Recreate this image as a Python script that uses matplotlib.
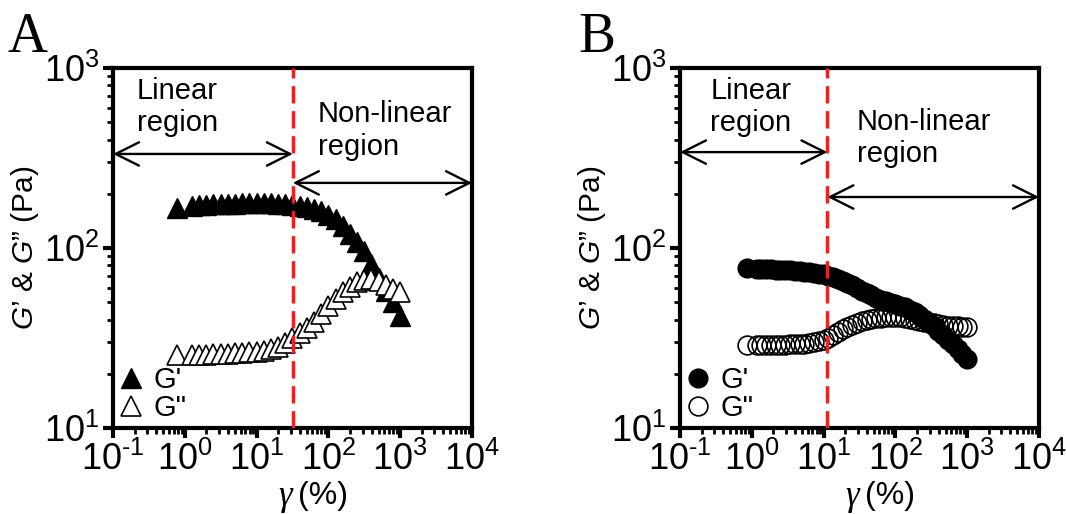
import matplotlib
matplotlib.use("Agg")
import matplotlib.pyplot as plt
from matplotlib.ticker import LogLocator, NullFormatter, FuncFormatter
import math

plt.rcParams['font.family'] = ['Liberation Sans', 'DejaVu Sans']
plt.rcParams['mathtext.fontset'] = 'custom'
plt.rcParams['mathtext.rm'] = 'Liberation Sans'
plt.rcParams['mathtext.it'] = 'Liberation Sans:italic'
plt.rcParams['mathtext.default'] = 'regular'
plt.rcParams['axes.unicode_minus'] = False

# ---------------- data ----------------
# Panel A (strain %, Pa)
strain_a = [0.79, 1.26, 1.58, 2.0, 2.51, 3.16, 3.98, 5.01, 6.31, 7.94, 10.0,
            12.6, 15.8, 20.0, 25.1, 31.6, 39.8, 50.1, 63.1, 79.4, 100,
            126, 158, 200, 251, 316, 398, 501, 631, 794, 1000]
g1_a = [167, 172, 173, 174, 175, 175, 176, 176, 177, 177, 177,
        177, 177, 176, 175, 174, 172, 169, 165, 160, 153,
        144, 133, 120, 108, 96, 81, 68, 58, 50, 42]
g2_a = [25.4, 25.5, 25.5, 25.6, 25.7, 25.8, 25.9, 26.0, 26.1, 26.3, 26.5,
        26.8, 27.3, 28.2, 29.5, 31.5, 33.5, 36.0, 39.0, 43.0, 47.5,
        52.0, 57.0, 61.0, 64.5, 66.5, 67.0, 65.5, 62.5, 59.5, 57.0]
crit_a = 32.0

# Panel B
strain_b = [0.85, 1.17, 1.36, 1.58, 1.85, 2.15, 2.51, 2.93, 3.41, 3.98, 4.64,
            5.41, 6.31, 7.36, 8.58, 10.0, 11.7, 13.6, 15.8, 18.5, 21.5,
            25.1, 29.3, 34.1, 39.8, 46.4, 54.1, 63.1, 73.6, 85.8, 100,
            117, 136, 158, 185, 215, 251, 293, 341, 398, 464,
            541, 631, 736, 858, 1000]
g1_b = [77.0, 76.5, 76.3, 76.1, 76.0, 75.8, 75.6, 75.3, 75.0, 74.6, 74.2,
        73.7, 73.2, 72.6, 72.0, 71.3, 70.3, 69.0, 67.5, 65.8, 64.0,
        62.0, 60.0, 58.0, 56.2, 54.5, 53.0, 51.7, 50.6, 49.6, 48.7,
        47.8, 46.8, 45.5, 44.0, 42.3, 40.5, 38.6, 36.7, 34.8, 32.9,
        31.0, 29.2, 27.5, 25.9, 24.3]
g2_b = [28.8, 28.8, 28.8, 28.8, 28.9, 28.9, 29.0, 29.0, 29.1, 29.2, 29.3,
        29.4, 29.6, 29.9, 30.3, 30.9, 31.8, 33.0, 34.2, 35.4, 36.5,
        37.5, 38.4, 39.2, 39.9, 40.4, 40.8, 41.1, 41.3, 41.4, 41.4,
        41.2, 40.9, 40.5, 40.0, 39.5, 39.0, 38.5, 38.1, 37.7, 37.4,
        37.1, 36.9, 36.7, 36.6, 36.5]
crit_b = 11.3

arrow_y_a = [333, 230]
arrow_y_b = [341, 192]

# ---------------- figure ----------------
W, H = 1066, 514
fig = plt.figure(figsize=(W / 100, H / 100), dpi=100)


def frac(x0, y0, x1, y1):
    return [x0 / W, 1 - y1 / H, (x1 - x0) / W, (y1 - y0) / H]


axA = fig.add_axes(frac(113, 68, 472, 428))
axB = fig.add_axes(frac(680, 68, 1039, 428))


def pow_fmt(v, pos):
    e = int(round(math.log10(v)))
    if e < 0:
        return "$10^{\\text{-}%d}$" % (-e)
    return "$10^{%d}$" % e


def style_axis(ax):
    ax.set_xscale('log')
    ax.set_yscale('log')
    ax.set_xlim(0.1, 1e4)
    ax.set_ylim(10, 1000)
    for s in ax.spines.values():
        s.set_linewidth(3.0)
    ax.xaxis.set_major_locator(LogLocator(base=10, numticks=10))
    ax.xaxis.set_minor_locator(LogLocator(base=10, subs=range(2, 10), numticks=50))
    ax.yaxis.set_major_locator(LogLocator(base=10, numticks=10))
    ax.yaxis.set_minor_locator(LogLocator(base=10, subs=range(2, 10), numticks=50))
    ax.xaxis.set_major_formatter(FuncFormatter(pow_fmt))
    ax.yaxis.set_major_formatter(FuncFormatter(pow_fmt))
    ax.xaxis.set_minor_formatter(NullFormatter())
    ax.yaxis.set_minor_formatter(NullFormatter())
    ax.tick_params(which='major', direction='out', length=7, width=3,
                   labelsize=26, pad=3, top=False, right=False)
    ax.tick_params(which='minor', direction='out', length=4, width=2,
                   top=False, right=False)
    ax.set_ylabel("$\\mathit{G}$’ & $\\mathit{G}$” (Pa)", fontsize=21.5, labelpad=2)
    ax.text(0.5, -0.19, "γ", transform=ax.transAxes, family='Liberation Serif',
            style='italic', fontsize=25, ha='right', va='center')
    ax.text(0.515, -0.19, "(%)", transform=ax.transAxes, fontsize=23,
            ha='left', va='center')


def arrows(ax, crit, ys):
    props = dict(arrowstyle='<->,head_length=0.7,head_width=0.35', lw=1.7,
                 color='black', shrinkA=0, shrinkB=0, mutation_scale=24)
    ax.annotate('', xy=(crit, ys[0]), xytext=(0.1, ys[0]), arrowprops=props)
    ax.annotate('', xy=(1e4, ys[1]), xytext=(crit, ys[1]), arrowprops=props)


def legend(ax):
    ax.legend(loc='lower left', frameon=False, fontsize=21, handlelength=0.8,
              handletextpad=0.4, labelspacing=0.0, borderaxespad=0.0,
              borderpad=0.2, markerscale=1.0)


# Panel A
style_axis(axA)
axA.plot(strain_a, g1_a, linestyle='none', marker='^', markersize=14,
         color='black', label="G'")
axA.plot(strain_a, g2_a, linestyle='none', marker='^', markersize=14,
         markerfacecolor='white', markeredgecolor='black', markeredgewidth=1.2,
         label='G"')
axA.axvline(crit_a, color='#ff1a1a', lw=2.5, linestyle=(0, (5, 2.2)), zorder=5)
arrows(axA, crit_a, arrow_y_a)
axA.text(0.067, 0.975, "Linear\nregion", transform=axA.transAxes, fontsize=21,
         ha='left', va='top', linespacing=1.2)
axA.text(0.571, 0.91, "Non-linear\nregion", transform=axA.transAxes, fontsize=21,
         ha='left', va='top', linespacing=1.2)
legend(axA)

# Panel B
style_axis(axB)
axB.plot(strain_b, g1_b, linestyle='none', marker='o', markersize=13.5,
         color='black', label="G'")
axB.plot(strain_b, g2_b, linestyle='none', marker='o', markersize=13.5,
         markerfacecolor='none', markeredgecolor='black', markeredgewidth=1.2,
         label='G"')
axB.axvline(crit_b, color='#ff1a1a', lw=2.5, linestyle=(0, (5, 2.2)), zorder=5)
arrows(axB, crit_b, arrow_y_b)
axB.text(0.084, 0.975, "Linear\nregion", transform=axB.transAxes, fontsize=21,
         ha='left', va='top', linespacing=1.2)
axB.text(0.493, 0.89, "Non-linear\nregion", transform=axB.transAxes, fontsize=21,
         ha='left', va='top', linespacing=1.2)
legend(axB)

fig.text(8 / W, 1 - 12 / H, "A", family='Liberation Serif', fontsize=40,
         ha='left', va='top')
fig.text(578 / W, 1 - 12 / H, "B", family='Liberation Serif', fontsize=40,
         ha='left', va='top')

fig.savefig("out.png", dpi=100)
